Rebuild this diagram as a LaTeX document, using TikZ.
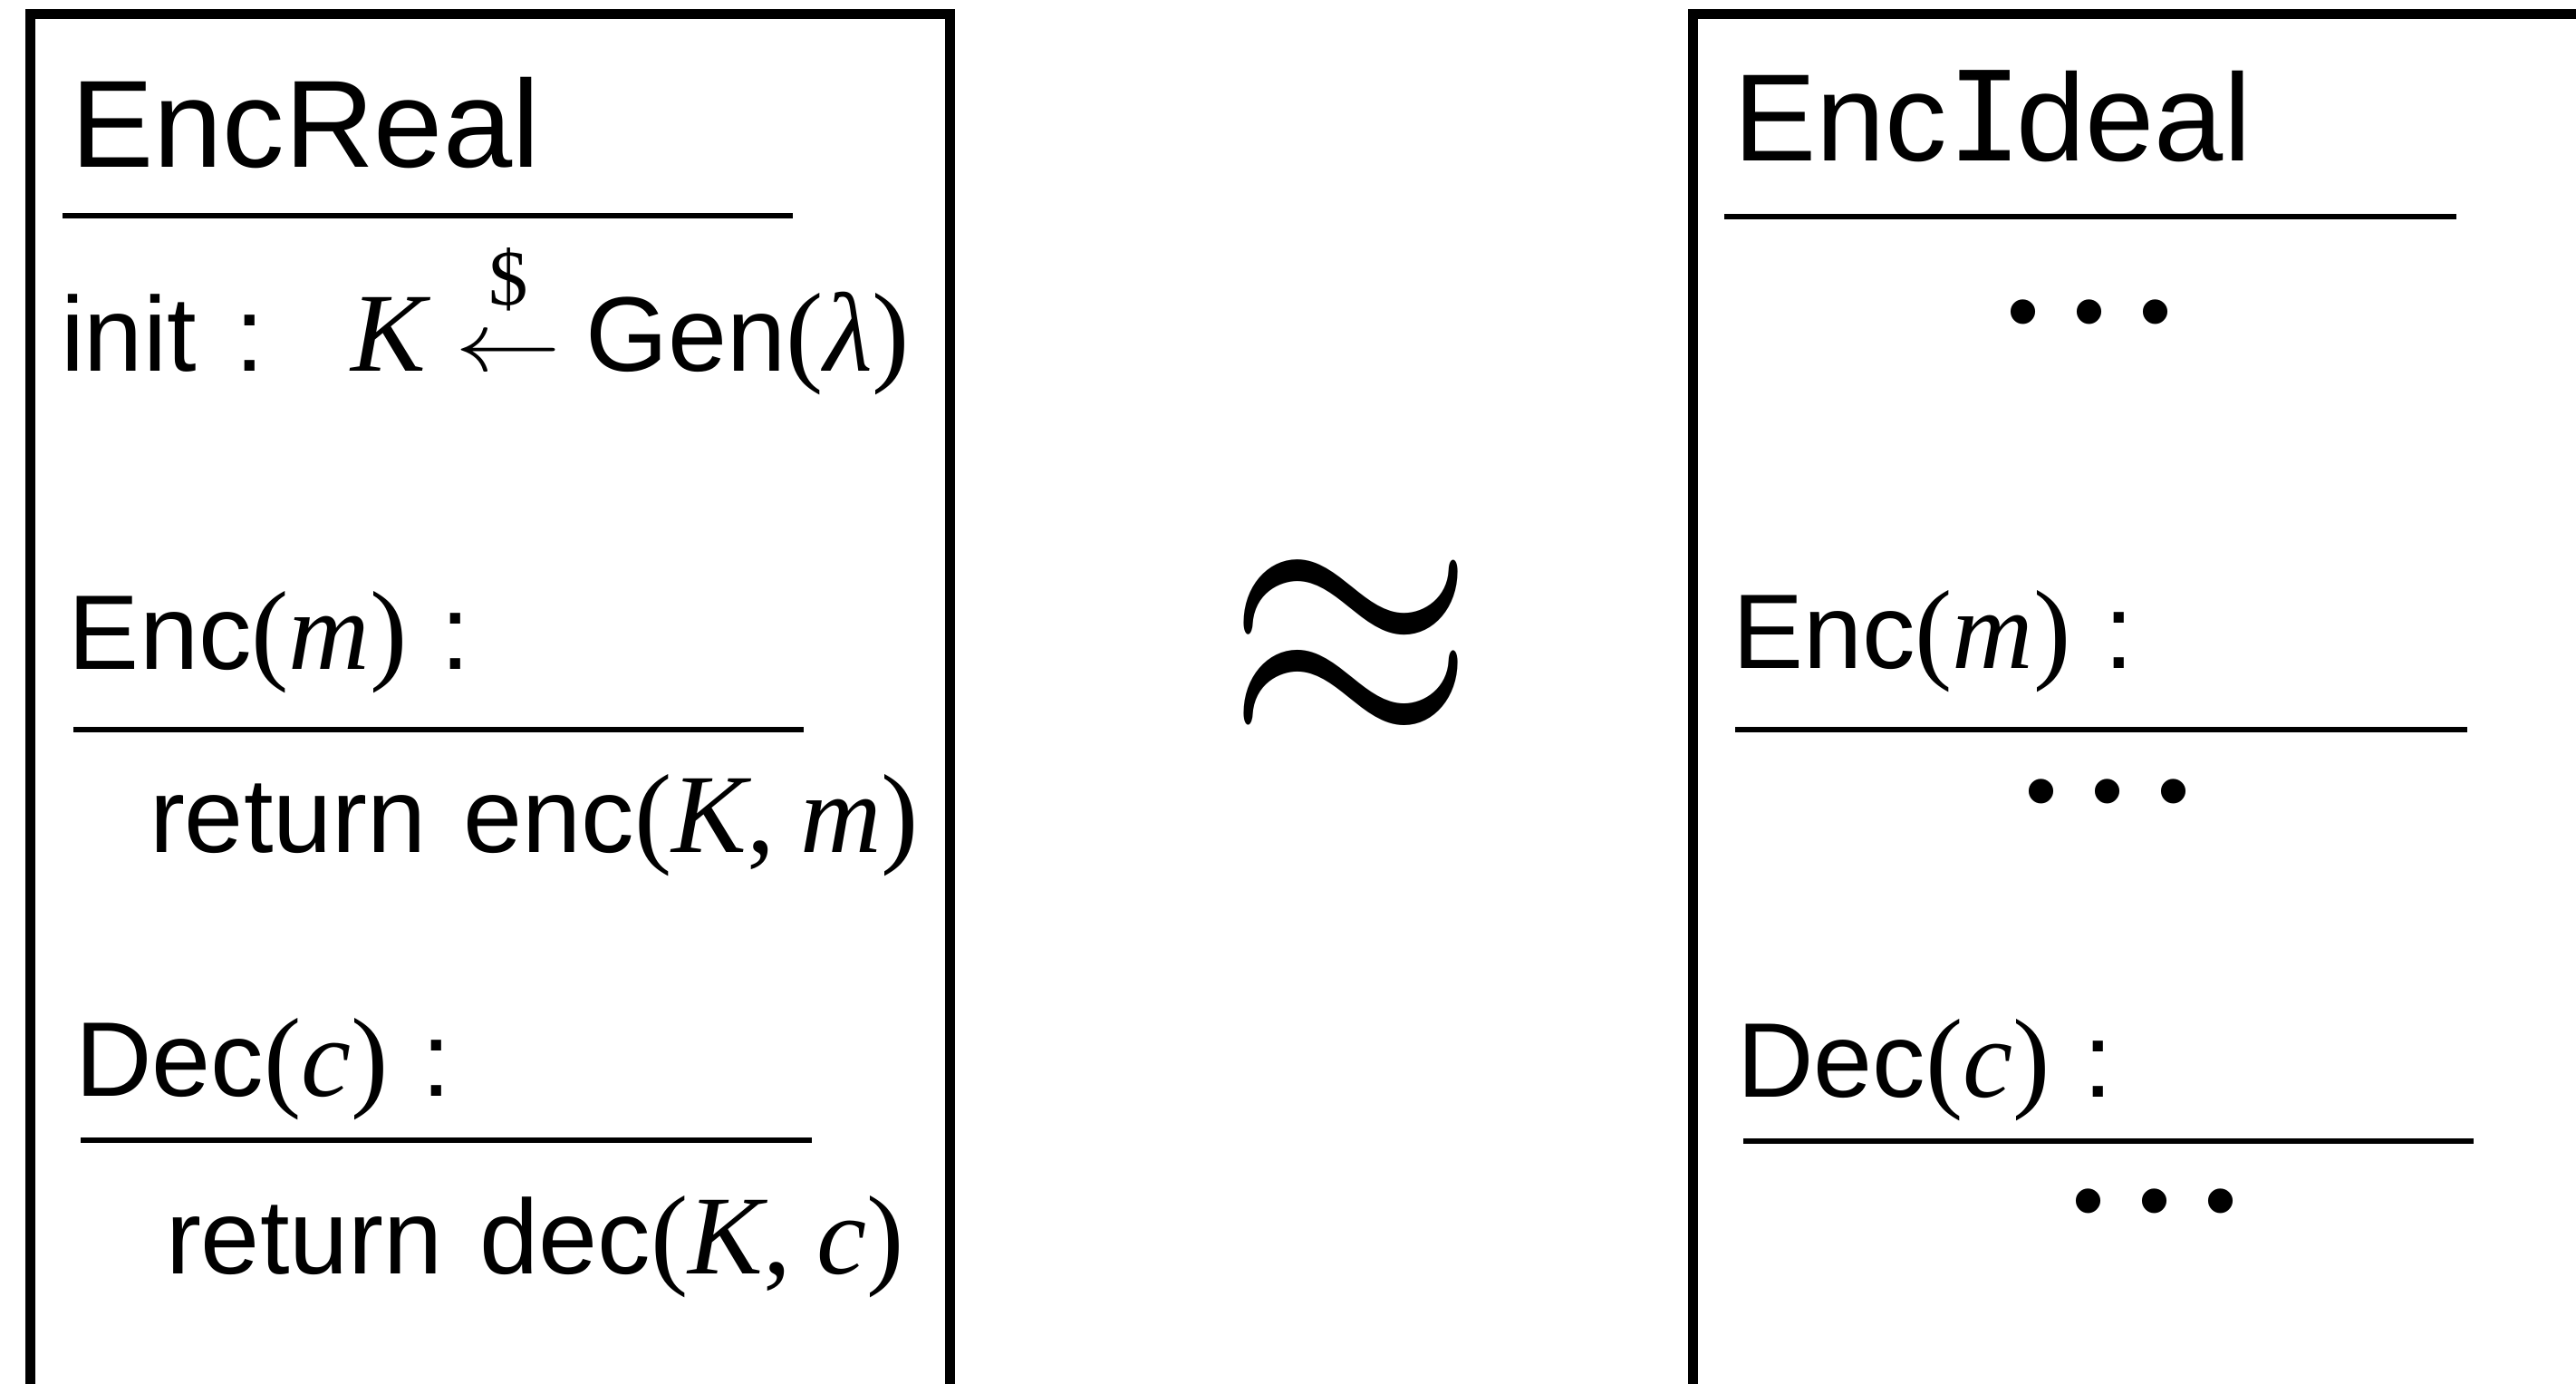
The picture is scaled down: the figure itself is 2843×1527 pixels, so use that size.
\RequirePackage{fix-cm}
\documentclass[tikz,border=0pt]{standalone}
\usepackage{graphicx}
\usepackage{fontspec}
\setmainfont{Liberation Sans}
\newfontfamily\tms{Liberation Serif}[Scale=1.06]
\newfontfamily\monoI{DejaVu Sans Mono}
\newcommand\vi[1]{{\tms\itshape #1}}
\newcommand\lpar{{\tms(}}
\newcommand\rpar{{\tms)}}
\newsavebox\arrbox
\begin{document}
\begin{tikzpicture}[x=0.2pt,y=-0.2pt,
  frame/.style={line width=2.2pt},
  hrule/.style={line width=1.3pt},
  body/.style={font=\fontsize{23.4pt}{28pt}\selectfont, inner sep=0pt, anchor=base west},
  title/.style={font=\fontsize{27.4pt}{32pt}\selectfont, inner sep=0pt, anchor=base west},
  dots/.style={font=\fontsize{20pt}{24pt}\selectfont, inner sep=0pt, anchor=base},
]
\path[use as bounding box] (0,0) rectangle (2843,1527);
% frames
\draw[frame] (33.5,1527) -- (33.5,16) -- (1048,16) -- (1048,1527);
\draw[frame] (1868.5,1527) -- (1868.5,16) -- (2843,16);
% left box
\node[title] (encreal) at (77,185) {EncReal};
\draw[hrule] (69,238) -- (875,238);
\node[body] (init) at (66,410) {init\hspace{8.7pt}:\hspace{18.9pt}\vi{K}\hspace{6.6pt}\sbox\arrbox{\scalebox{1}[0.8]{$\leftarrow$}}\rlap{\makebox[\wd\arrbox]{\raisebox{14.6pt}{\fontsize{16.4pt}{18pt}\selectfont\tms\$}}}\usebox\arrbox\hspace{5.4pt}Gen\lpar\vi{λ}\rpar};
\node[body] (encL) at (75,739) {Enc\lpar\vi{m}\rpar\hspace{7.3pt}:};
\draw[hrule] (81,805) -- (887,805);
\node[body] (retL) at (164,941) {return\hspace{8.2pt}enc\lpar\vi{K}{\tms,}\hspace{5.6pt}\vi{m}\rpar};
\node[body] (decL) at (82,1210) {Dec\lpar\vi{c}\rpar\hspace{7.3pt}:};
\draw[hrule] (89,1258) -- (896,1258);
\node[body] (retL2) at (182,1406) {return\hspace{8.2pt}dec\lpar\vi{K}{\tms,}\hspace{5.6pt}\vi{c}\rpar};
% approx
\node[inner sep=0pt, font=\fontsize{70.8pt}{80pt}\selectfont] (approx) at (1491,721) {\scalebox{1}[1.21]{$\approx$}};
% right box
\node[title] (encideal) at (1912,178) {Enc{\monoI I}\hspace{-1.2pt}deal};
\draw[hrule] (1903,239) -- (2711,239);
\node[dots] (d1) at (2306,378) {•\hspace{7.6pt}•\hspace{7.6pt}•};
\node[body] (encR) at (1911,738) {Enc\lpar\vi{m}\rpar\hspace{7.3pt}:};
\draw[hrule] (1915,805) -- (2723,805);
\node[dots] (d2) at (2326,907) {•\hspace{7.6pt}•\hspace{7.6pt}•};
\node[body] (decR) at (1916,1211) {Dec\lpar\vi{c}\rpar\hspace{7.3pt}:};
\draw[hrule] (1924,1259) -- (2730,1259);
\node[dots] (d3) at (2378,1359) {•\hspace{7.6pt}•\hspace{7.6pt}•};
\end{tikzpicture}
\end{document}
